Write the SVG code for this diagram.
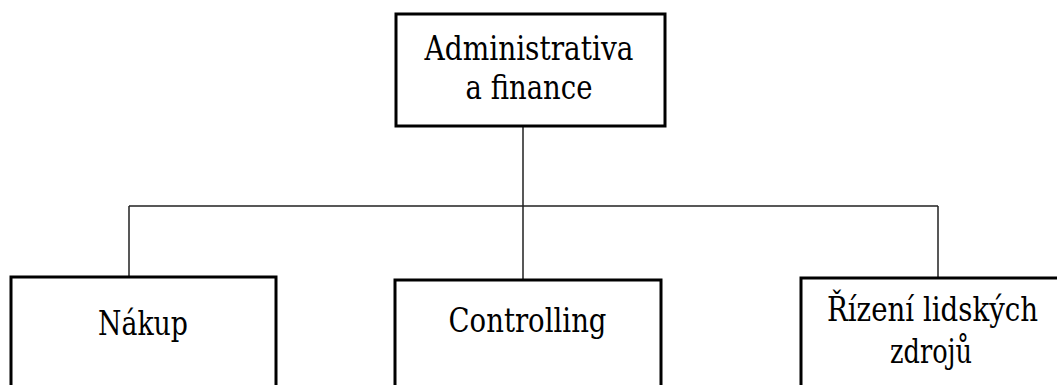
<svg xmlns="http://www.w3.org/2000/svg" width="1057" height="385" viewBox="0 0 1057 385">
<style>
.box{fill:#fff;stroke:#000;stroke-width:3}
.lbl{font-family:'DejaVu Serif',serif;font-size:34px;fill:#000;text-anchor:middle}
.con{fill:none;stroke:#222;stroke-width:1.5}
</style>
<rect width="1057" height="385" fill="#fff"/>
<g id="connectors">
<path class="con" d="M523 126V206M129 206H938M129 206V277M523 206V280M938 206V278"/>
</g>
<g id="admin">
<rect class="box" x="396" y="14" width="269" height="112"/>
<text class="lbl" x="529" y="60" textLength="209" lengthAdjust="spacingAndGlyphs">Administrativa</text>
<text class="lbl" x="529" y="99" textLength="127" lengthAdjust="spacingAndGlyphs">a finance</text>
</g>
<g id="nakup">
<rect class="box" x="11" y="277" width="265" height="120"/>
<text class="lbl" x="143" y="335" textLength="90" lengthAdjust="spacingAndGlyphs">Nákup</text>
</g>
<g id="controlling">
<rect class="box" x="395" y="280" width="266" height="120"/>
<text class="lbl" x="527.5" y="332" textLength="158" lengthAdjust="spacingAndGlyphs">Controlling</text>
</g>
<g id="rizeni">
<rect class="box" x="801" y="278" width="266" height="120"/>
<text class="lbl" x="932.5" y="321" textLength="211" lengthAdjust="spacingAndGlyphs">Řízení lidských</text>
<text class="lbl" x="931" y="363" textLength="82" lengthAdjust="spacingAndGlyphs">zdrojů</text>
</g>
</svg>
